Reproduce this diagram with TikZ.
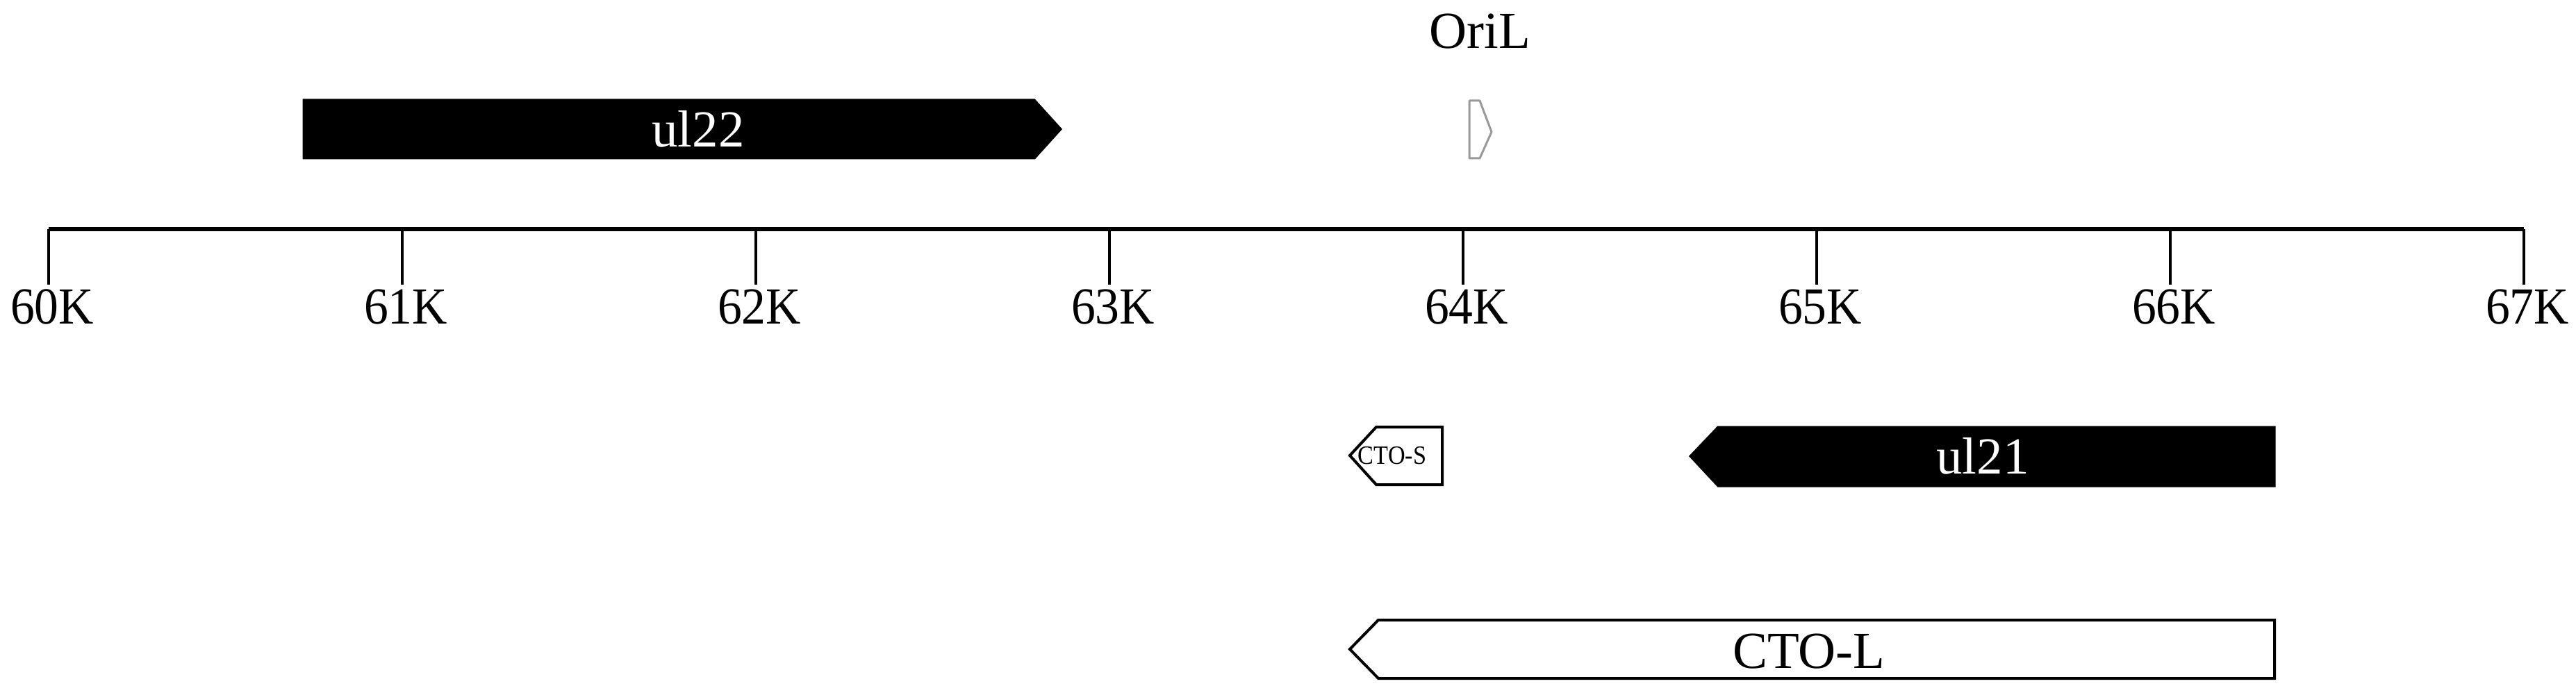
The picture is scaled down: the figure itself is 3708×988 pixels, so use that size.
\documentclass[tikz,border=0pt]{standalone}
\usepackage{fontspec}
\setmainfont{Liberation Serif}
\begin{document}
\begin{tikzpicture}[x=0.01cm,y=-0.01cm,
  lbl/.style={font=\fontsize{21.3}{25}\selectfont, anchor=base, inner sep=0pt},
  smalllbl/.style={font=\fontsize{10.8}{12}\selectfont, anchor=base, inner sep=0pt},
  blackgene/.style={fill=black, draw=black, line width=0.3mm, line join=miter},
  whitegene/.style={fill=white, draw=black, line width=0.4mm, line join=miter},
  origene/.style={fill=white, draw=black!40, line width=0.3mm, line join=round},
  axisline/.style={line width=0.65mm},
  tickline/.style={line width=0.35mm}]
\useasboundingbox (0,0) rectangle (3708,988);
% axis
\coordinate (a0) at (70,330);
\coordinate (a7) at (3633,330);
\draw[axisline] (a0) -- (a7);
\foreach \k in {0,...,7} {
  \coordinate (t\k) at ({70+509*\k},330);
  \coordinate (b\k) at ({70+509*\k},410);
  \draw[tickline] (t\k) -- (b\k);
  \node[lbl] (l\k) at ({75+509*\k},466) {\scalebox{0.93}[1]{6\k K}};
}
% ul22
\draw[blackgene] (437,144) -- (1489,144) -- (1527,186) -- (1489,228) -- (437,228) -- cycle;
\node[lbl, text=white] (ul22) at (1005,212) {ul22};
% OriL
\draw[origene] (2115,145) -- (2130,145) -- (2147,190) -- (2130,228) -- (2115,228) -- cycle;
\node[lbl] (oril) at (2130,70) {OriL};
% CTO-S
\draw[whitegene] (2076,615) -- (1981,615) -- (1943,656) -- (1981,698) -- (2076,698) -- cycle;
\node[smalllbl] (ctos) at (2004,668) {\scalebox{0.9}[1]{CTO-S}};
% ul21
\draw[blackgene] (3274,615) -- (2473,615) -- (2433,657) -- (2473,700) -- (3274,700) -- cycle;
\node[lbl, text=white] (ul21) at (2854,682) {ul21};
% CTO-L
\draw[whitegene] (3274,893) -- (1984,893) -- (1943,935) -- (1984,977) -- (3274,977) -- cycle;
\node[lbl] (ctol) at (2604,962) {CTO-L};
\end{tikzpicture}
\end{document}
